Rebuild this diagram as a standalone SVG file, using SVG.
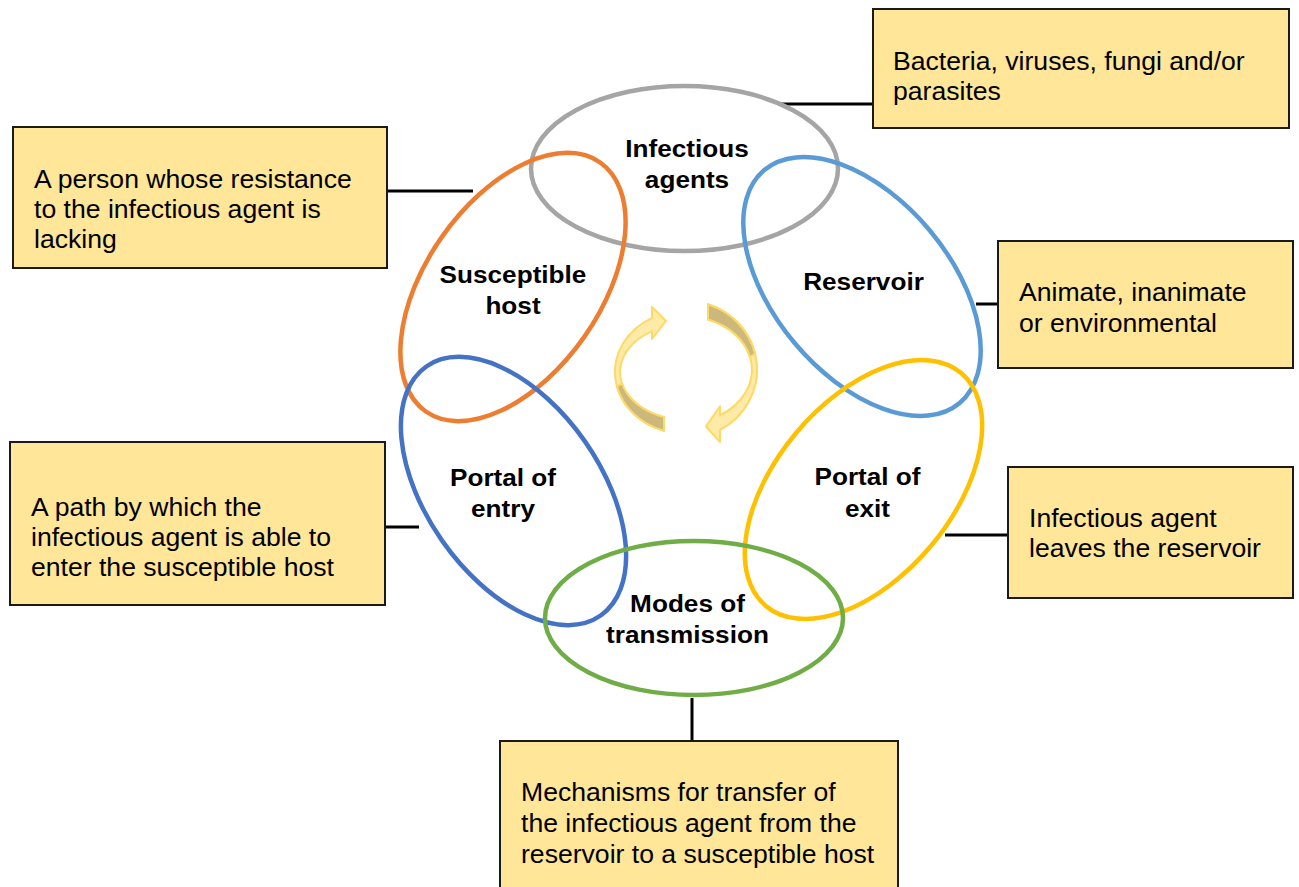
<svg xmlns="http://www.w3.org/2000/svg" width="1299" height="887" viewBox="0 0 1299 887">
<style>
.box{fill:#FFE699;stroke:#1a1a1a;stroke-width:2}
.t{font-family:"Liberation Sans",Arial,sans-serif;font-size:25px;fill:#000}
.b{font-family:"Liberation Sans",Arial,sans-serif;font-size:24px;font-weight:bold;fill:#000;text-anchor:middle}
.ring{fill:none;stroke-width:4.5}
.conn{stroke:#000;stroke-width:3;fill:none}
.arr{fill:#FFE699;fill-opacity:0.85;stroke:#FFD966;stroke-width:2;stroke-linejoin:round}
.back{fill:#CDB87C;stroke:#FFD966;stroke-width:2;stroke-linejoin:round}
</style>
<defs>
<path id="arrowShape" d="M -23 58.8 A 72 62 0 0 1 -35 -54.2 L -35 -65 L -21 -51 L -35 -33 L -35 -40.9 A 67 48 0 0 0 -23 45.1 Z"/>
<path id="arrowBack" d="M -23 58.8 A 72 62 0 0 1 -70 14.5 L -65.1 11.3 A 67 48 0 0 0 -23 45.1 Z"/>
</defs>
<rect width="1299" height="887" fill="#fff"/>

<g id="connectors">
<line class="conn" x1="781" y1="104" x2="873" y2="104"/>
<line class="conn" x1="387" y1="191" x2="473" y2="191"/>
<line class="conn" x1="976" y1="304" x2="998" y2="304"/>
<line class="conn" x1="385" y1="527" x2="419" y2="527"/>
<line class="conn" x1="945" y1="535" x2="1008" y2="535"/>
<line class="conn" x1="692" y1="698" x2="692" y2="741"/>
</g>

<g id="cycle-arrows">
<g transform="translate(687,372)">
<use href="#arrowShape" class="arr"/>
<use href="#arrowBack" class="back"/>
</g>
<g transform="translate(685,369.7) scale(1,1.113) rotate(180)">
<use href="#arrowShape" class="arr"/>
<use href="#arrowBack" class="back"/>
</g>
</g>

<g id="infectious-agents">
<ellipse class="ring" cx="684.5" cy="168.5" rx="153.5" ry="82.5" stroke="#A5A5A5"/>
<text class="b" transform="translate(687,0) scale(1.09,1)"><tspan x="0" y="157">Infectious</tspan><tspan x="0" y="188">agents</tspan></text>
</g>

<g id="reservoir">
<ellipse class="ring" cx="862" cy="286.5" rx="152" ry="88" transform="rotate(50 862 286.5)" stroke="#5B9BD5"/>
<text class="b" transform="translate(863.5,0) scale(1.09,1)"><tspan x="0" y="290">Reservoir</tspan></text>
</g>

<g id="susceptible-host">
<ellipse class="ring" cx="513" cy="287" rx="152" ry="87" transform="rotate(-55 513 287)" stroke="#ED7D31"/>
<text class="b" transform="translate(513,0) scale(1.09,1)"><tspan x="0" y="283">Susceptible</tspan><tspan x="0" y="314">host</tspan></text>
</g>

<g id="portal-of-exit">
<ellipse class="ring" cx="863.5" cy="489.5" rx="152" ry="88" transform="rotate(-50 863.5 489.5)" stroke="#FFC000"/>
<text class="b" transform="translate(867.5,0) scale(1.09,1)"><tspan x="0" y="485">Portal of</tspan><tspan x="0" y="517">exit</tspan></text>
</g>

<g id="portal-of-entry">
<ellipse class="ring" cx="513.5" cy="491" rx="152" ry="87" transform="rotate(55 513.5 491)" stroke="#4472C4"/>
<text class="b" transform="translate(503,0) scale(1.09,1)"><tspan x="0" y="486">Portal of</tspan><tspan x="0" y="517">entry</tspan></text>
</g>

<g id="modes-of-transmission">
<ellipse class="ring" cx="694" cy="618" rx="149" ry="77" stroke="#70AD47"/>
<text class="b" transform="translate(687.5,0) scale(1.09,1)"><tspan x="0" y="612">Modes of</tspan><tspan x="0" y="643">transmission</tspan></text>
</g>

<g id="note-agents">
<rect class="box" x="873" y="9" width="416" height="119"/>
<text class="t" transform="translate(893,0) scale(1.064,1)"><tspan x="0" y="70">Bacteria, viruses, fungi and/or</tspan><tspan x="0" y="100">parasites</tspan></text>
</g>

<g id="note-host">
<rect class="box" x="13" y="127" width="374" height="141"/>
<text class="t" transform="translate(34,0) scale(1.064,1)"><tspan x="0" y="188">A person whose resistance</tspan><tspan x="0" y="218">to the infectious agent is</tspan><tspan x="0" y="248">lacking</tspan></text>
</g>

<g id="note-reservoir">
<rect class="box" x="998" y="241" width="295" height="127"/>
<text class="t" transform="translate(1019,0) scale(1.064,1)"><tspan x="0" y="301">Animate, inanimate</tspan><tspan x="0" y="332">or environmental</tspan></text>
</g>

<g id="note-entry">
<rect class="box" x="10" y="442" width="375" height="163"/>
<text class="t" transform="translate(31,0) scale(1.064,1)"><tspan x="0" y="516">A path by which the</tspan><tspan x="0" y="546">infectious agent is able to</tspan><tspan x="0" y="576">enter the susceptible host</tspan></text>
</g>

<g id="note-exit">
<rect class="box" x="1008" y="467" width="285" height="131"/>
<text class="t" transform="translate(1029,0) scale(1.064,1)"><tspan x="0" y="527">Infectious agent</tspan><tspan x="0" y="557">leaves the reservoir</tspan></text>
</g>

<g id="note-transmission">
<rect class="box" x="500" y="741" width="398" height="160"/>
<text class="t" transform="translate(521,0) scale(1.064,1)"><tspan x="0" y="801">Mechanisms for transfer of</tspan><tspan x="0" y="832">the infectious agent from the</tspan><tspan x="0" y="863">reservoir to a susceptible host</tspan></text>
</g>
</svg>
